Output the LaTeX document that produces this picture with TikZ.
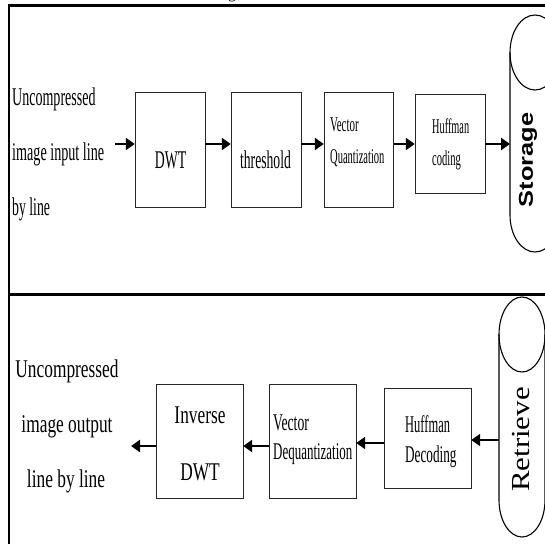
\documentclass[tikz,border=0pt]{standalone}
\usepackage{fontspec}
\setmainfont{Liberation Serif}
\newfontfamily\sansfam{Liberation Sans}
\usetikzlibrary{arrows.meta}
\newcommand{\hsq}[2]{\scalebox{#1}[1]{#2}}
\begin{document}
\begin{tikzpicture}[x=1pt,y=-1pt,
  box/.style={draw=black!85, line width=1pt},
  cyl/.style={draw=black, line width=1.1pt},
  flow/.style={line width=2.8pt, -{Triangle[length=9pt,width=12pt]}},
  frameline/.style={line width=2.5pt},
  txt/.style={inner sep=0pt, font=\fontsize{25.5}{25.5}\selectfont},
  txts/.style={inner sep=0pt, font=\fontsize{21}{21}\selectfont},
  txtm/.style={inner sep=0pt, font=\fontsize{24}{24}\selectfont},
]
\useasboundingbox (0,0) rectangle (545,544);
\clip (0,0) rectangle (545,544);
% caption fragment
\node[inner sep=0pt, anchor=base, font=\fontsize{16}{16}\selectfont] (cap) at (232,-1.5) {g};
% frame
\draw[frameline] (9,544) -- (9,5.5) -- (546,5.5);
\draw[line width=3pt] (9,294) -- (546,294);

% ---------- top panel ----------
\node[txt, anchor=base west] (in1) at (12,105) {\hsq{0.55}{Uncompressed}};
\node[txt, anchor=base west] (in2) at (12,160) {\hsq{0.555}{image input line}};
\node[txt, anchor=base west] (in3) at (12,215) {\hsq{0.54}{by line}};

\draw[box] (135,92) rectangle (205,207);
\node[inner sep=0pt, minimum width=70pt, minimum height=115pt] (dwt) at (170,149.5) {};
\draw[box] (231,92) rectangle (301,207);
\node[inner sep=0pt, minimum width=70pt, minimum height=115pt] (thr) at (266,149.5) {};
\draw[box] (324,92) rectangle (393.5,207);
\node[inner sep=0pt, minimum width=69.5pt, minimum height=115pt] (vq) at (358.75,149.5) {};
\draw[box] (415,94) rectangle (485,193);
\node[inner sep=0pt, minimum width=70pt, minimum height=99pt] (huf) at (450,143.5) {};

\node[txt, anchor=base] (dwtt) at (170.5,168) {\hsq{0.54}{DWT}};
\node[txt, anchor=base] (thrt) at (265.5,168) {\hsq{0.535}{threshold}};
\node[txts, anchor=base west] (vqt1) at (330,131) {\hsq{0.52}{Vector}};
\node[txts, anchor=base west] (vqt2) at (330,163) {\hsq{0.5}{Quantization}};
\node[txts, anchor=base west] (huft1) at (432,133) {\hsq{0.49}{Huffman}};
\node[txts, anchor=base west] (huft2) at (432,165) {\hsq{0.5}{coding}};

% storage cylinder
\coordinate (stl) at (510,144);
\draw[cyl] (535,52.5) ellipse[x radius=25, y radius=37.5];
\draw[cyl] (510,52.5) -- (510,215) arc[start angle=180, end angle=0, x radius=25, y radius=37] -- (560,52.5);
\node[inner sep=0pt, rotate=90, font=\sansfam\bfseries\fontsize{20}{20}\selectfont] (sto) at (528,160) {\hsq{1.27}{Storage}};

\coordinate (ra) at (0,144);
\draw[flow] (115,144) coordinate (a0) -- (dwt.west |- ra);
\draw[flow] (dwt.east |- ra) -- (thr.west |- ra);
\draw[flow] (thr.east |- ra) -- (vq.west |- ra);
\draw[flow] (vq.east |- ra) -- (huf.west |- ra);
\draw[flow] (huf.east |- ra) -- (stl);

% ---------- bottom panel ----------
\node[txt, anchor=base] (out1) at (67,377) {\hsq{0.68}{Uncompressed}};
\node[txt, anchor=base] (out2) at (67,432) {\hsq{0.68}{image output}};
\node[txt, anchor=base] (out3) at (66,487) {\hsq{0.68}{line by line}};

\draw[box] (156.5,384) rectangle (243,498);
\node[inner sep=0pt, minimum width=86.5pt, minimum height=114pt] (idwt) at (199.75,441) {};
\draw[box] (269,384) rectangle (356,498);
\node[inner sep=0pt, minimum width=87pt, minimum height=114pt] (vdq) at (312.5,441) {};
\draw[box] (384,388) rectangle (471,488);
\node[inner sep=0pt, minimum width=87pt, minimum height=100pt] (hdec) at (427.5,438) {};

\node[txt, anchor=base] (idwt1) at (200,423) {\hsq{0.68}{Inverse}};
\node[txt, anchor=base] (idwt2) at (200,480) {\hsq{0.68}{DWT}};
\node[txtm, anchor=base west] (vdq1) at (273,430) {\hsq{0.57}{Vector}};
\node[txtm, anchor=base west] (vdq2) at (273,459) {\hsq{0.54}{Dequantization}};
\node[txtm, anchor=base west] (hdec1) at (405,432) {\hsq{0.52}{Huffman}};
\node[txtm, anchor=base west] (hdec2) at (405,462) {\hsq{0.55}{Decoding}};

% retrieve cylinder
\coordinate (rtl) at (499,440);
\draw[cyl] (522,334.5) ellipse[x radius=23, y radius=37.5];
\draw[cyl] (499,334.5) -- (499,500) arc[start angle=180, end angle=0, x radius=23, y radius=37] -- (545,334.5);
\node[inner sep=0pt, rotate=90, font=\fontsize{26}{26}\selectfont] (ret) at (521,439.5) {\hsq{1.19}{Retrieve}};

\draw[flow] (rtl) -- (hdec.east |- rtl);
\coordinate (rb) at (0,443);
\draw[flow] (hdec.west |- rb) -- (vdq.east |- rb);
\coordinate (rc) at (0,446);
\draw[flow] (vdq.west |- rc) -- (idwt.east |- rc);
\draw[flow] (idwt.west |- rc) -- (131,446) coordinate (aout);
\end{tikzpicture}
\end{document}
